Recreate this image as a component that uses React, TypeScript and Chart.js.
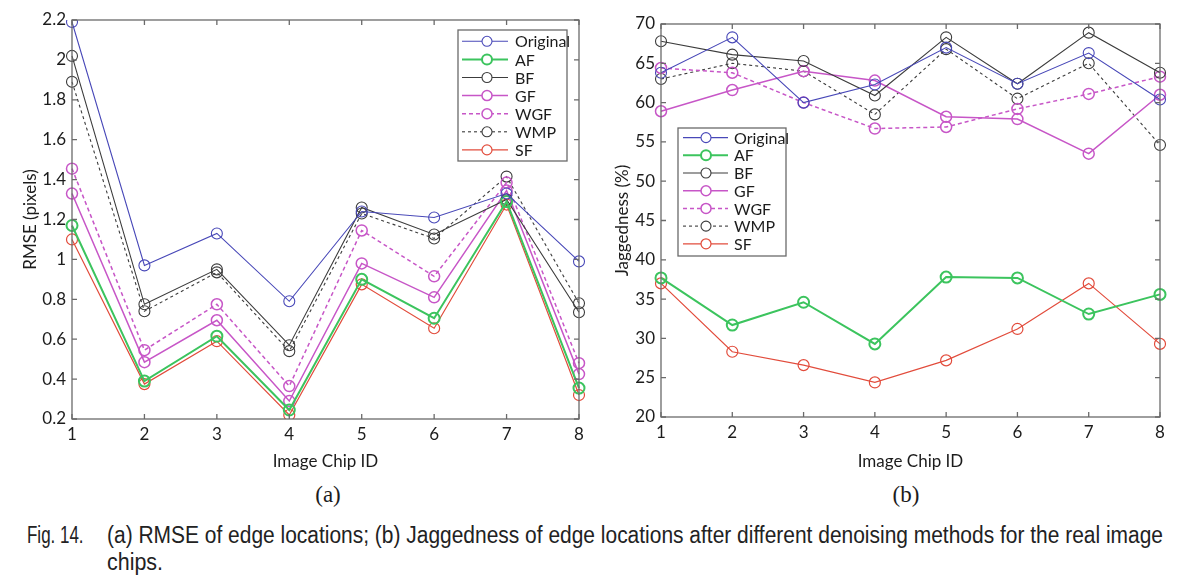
import React, { useEffect, useLayoutEffect, useRef } from 'react';
import { Chart, registerables } from 'chart.js';

Chart.register(...registerables);

// ---------- data ----------
const chipIds = ['1', '2', '3', '4', '5', '6', '7', '8'];
const seriesNames = ['Original', 'AF', 'BF', 'GF', 'WGF', 'WMP', 'SF'];

// (a) RMSE (pixels)
const rmseOriginal = [2.19, 0.97, 1.13, 0.79, 1.24, 1.21, 1.33, 0.99];
const rmseAF = [1.17, 0.39, 0.615, 0.245, 0.9, 0.705, 1.29, 0.355];
const rmseBF = [2.02, 0.775, 0.95, 0.57, 1.26, 1.125, 1.3, 0.735];
const rmseGF = [1.33, 0.485, 0.695, 0.29, 0.98, 0.81, 1.345, 0.425];
const rmseWGF = [1.455, 0.545, 0.775, 0.365, 1.145, 0.915, 1.385, 0.48];
const rmseWMP = [1.89, 0.74, 0.935, 0.54, 1.23, 1.105, 1.415, 0.78];
const rmseSF = [1.1, 0.375, 0.59, 0.22, 0.875, 0.655, 1.275, 0.32];
const rmseTickValues = [0.2, 0.4, 0.6, 0.8, 1, 1.2, 1.4, 1.6, 1.8, 2, 2.2];
const rmseTickLabels = ['0.2', '0.4', '0.6', '0.8', '1', '1.2', '1.4', '1.6', '1.8', '2', '2.2'];

// (b) Jaggedness (%)
const jagOriginal = [63.8, 68.3, 60.0, 62.3, 67.0, 62.4, 66.3, 60.4];
const jagAF = [37.7, 31.7, 34.6, 29.3, 37.8, 37.7, 33.1, 35.6];
const jagBF = [67.8, 66.1, 65.3, 60.9, 68.3, 62.4, 68.9, 63.8];
const jagGF = [58.9, 61.6, 64.0, 62.8, 58.2, 57.9, 53.5, 61.0];
const jagWGF = [64.4, 63.8, 60.0, 56.7, 56.9, 59.2, 61.1, 63.3];
const jagWMP = [63.0, 65.0, 64.0, 58.5, 66.8, 60.5, 65.0, 54.6];
const jagSF = [37.0, 28.3, 26.6, 24.4, 27.2, 31.2, 37.0, 29.3];
const jagTickValues = [20, 25, 30, 35, 40, 45, 50, 55, 60, 65, 70];
const jagTickLabels = ['20', '25', '30', '35', '40', '45', '50', '55', '60', '65', '70'];

// ---------- styles ----------
const seriesStyles = [
  { color: '#4848b8', width: 1.1, dash: [] as number[] },
  { color: '#3cc45e', width: 2, dash: [] as number[] },
  { color: '#3c3c3c', width: 1.1, dash: [] as number[] },
  { color: '#c756c7', width: 1.5, dash: [] as number[] },
  { color: '#c756c7', width: 1.5, dash: [4, 3] },
  { color: '#3c3c3c', width: 1.1, dash: [3, 3] },
  { color: '#e24c3c', width: 1.2, dash: [] as number[] },
];

const FONT = 'Lato';
const TEXT_COLOR = '#1c1c1c';
const FRAME_COLOR = '#6a6a6a';

const framePlugin = {
  id: 'matlabFrame',
  afterDatasetsDraw(chart: any) {
    const { ctx, chartArea, scales } = chart;
    const { left, right, top, bottom } = chartArea;
    const tl = 5;
    ctx.save();
    ctx.strokeStyle = FRAME_COLOR;
    ctx.lineWidth = 1.3;
    ctx.setLineDash([]);
    ctx.strokeRect(left, top, right - left, bottom - top);
    ctx.beginPath();
    scales.x.ticks.forEach((_t: any, i: number) => {
      const x = scales.x.getPixelForTick(i);
      ctx.moveTo(x, bottom);
      ctx.lineTo(x, bottom - tl);
      ctx.moveTo(x, top);
      ctx.lineTo(x, top + tl);
    });
    scales.y.ticks.forEach((_t: any, i: number) => {
      const y = scales.y.getPixelForTick(i);
      ctx.moveTo(left, y);
      ctx.lineTo(left + tl, y);
      ctx.moveTo(right, y);
      ctx.lineTo(right - tl, y);
    });
    ctx.stroke();
    ctx.restore();
  },
};

const boxLegendPlugin = {
  id: 'boxLegend',
  afterDraw(chart: any, _args: any, opts: any) {
    const { ctx } = chart;
    const { left, top, width, height, firstRow, rowStep, lineStart, lineEnd, markerX, textX } = opts;
    ctx.save();
    ctx.fillStyle = '#ffffff';
    ctx.fillRect(left, top, width, height);
    ctx.strokeStyle = FRAME_COLOR;
    ctx.lineWidth = 1.3;
    ctx.setLineDash([]);
    ctx.strokeRect(left, top, width, height);
    ctx.font = `16px ${FONT}`;
    ctx.textBaseline = 'middle';
    ctx.textAlign = 'left';
    chart.data.datasets.forEach((ds: any, i: number) => {
      const y = top + firstRow + i * rowStep;
      ctx.strokeStyle = ds.borderColor;
      ctx.lineWidth = ds.borderWidth;
      ctx.setLineDash(ds.borderDash || []);
      ctx.beginPath();
      ctx.moveTo(left + lineStart, y);
      ctx.lineTo(left + lineEnd, y);
      ctx.stroke();
      ctx.setLineDash([]);
      ctx.lineWidth = ds.pointBorderWidth;
      ctx.beginPath();
      ctx.arc(left + markerX, y, 5, 0, Math.PI * 2);
      ctx.fillStyle = '#ffffff';
      ctx.fill();
      ctx.stroke();
      ctx.fillStyle = TEXT_COLOR;
      ctx.fillText(ds.label, left + textX, y + 1);
    });
    ctx.restore();
  },
};

interface PanelProps {
  series: number[][];
  tickValues: number[];
  tickLabels: string[];
  yTitle: string;
  canvasLeft: number;
  canvasWidth: number;
  canvasHeight: number;
  padTop: number;
  padRight: number;
  yAxisWidth: number;
  xAxisHeight: number;
  yTitlePad: number;
  legend: any;
}

function Panel(p: PanelProps) {
  const ref = useRef<HTMLCanvasElement>(null);
  useEffect(() => {
    if (!ref.current) return;
    const font = { family: FONT, size: 17 };
    const chart = new Chart(ref.current, {
      type: 'line',
      data: {
        labels: chipIds,
        datasets: p.series.map((vals, i) => ({
          label: seriesNames[i],
          data: vals,
          borderColor: seriesStyles[i].color,
          borderWidth: seriesStyles[i].width,
          borderDash: seriesStyles[i].dash,
          pointStyle: 'circle',
          pointRadius: 5.5,
          pointBorderWidth: seriesStyles[i].width,
          pointBorderColor: seriesStyles[i].color,
          pointBackgroundColor: 'rgba(0,0,0,0)',
          tension: 0,
          fill: false,
        })),
      },
      options: {
        responsive: false,
        animation: false,
        events: [],
        layout: { padding: { left: 0, top: p.padTop, right: p.padRight, bottom: 0 } },
        plugins: {
          legend: { display: false },
          tooltip: { enabled: false },
          boxLegend: p.legend,
        } as any,
        scales: {
          x: {
            type: 'category',
            offset: false,
            grid: { display: false, drawTicks: false },
            border: { display: false },
            ticks: { padding: 5, color: TEXT_COLOR, font, autoSkip: false, maxRotation: 0 },
            title: { display: true, text: 'Image Chip ID', color: TEXT_COLOR, font, padding: { top: 0, bottom: 0 } },
            afterFit: (s: any) => {
              s.height = p.xAxisHeight;
            },
          },
          y: {
            type: 'linear',
            min: p.tickValues[0],
            max: p.tickValues[p.tickValues.length - 1],
            grid: { display: false, drawTicks: false },
            border: { display: false },
            afterBuildTicks: (s: any) => {
              s.ticks = p.tickValues.map((v) => ({ value: v }));
            },
            ticks: {
              padding: 6,
              color: TEXT_COLOR,
              font,
              autoSkip: false,
              callback: (_v: any, i: number) => p.tickLabels[i],
            },
            title: { display: true, text: p.yTitle, color: TEXT_COLOR, font, padding: { top: p.yTitlePad, bottom: 0 } },
            afterFit: (s: any) => {
              s.width = p.yAxisWidth;
            },
          },
        },
      } as any,
      plugins: [framePlugin, boxLegendPlugin],
    });
    return () => chart.destroy();
  }, []);
  return (
    <canvas
      ref={ref}
      width={p.canvasWidth}
      height={p.canvasHeight}
      style={{ position: 'absolute', left: p.canvasLeft, top: 0, width: p.canvasWidth, height: p.canvasHeight }}
    />
  );
}

function FitText(props: { text: string; left: number; top: number; width: number; style: React.CSSProperties }) {
  const ref = useRef<HTMLSpanElement>(null);
  useLayoutEffect(() => {
    const fit = () => {
      const el = ref.current;
      if (!el) return;
      el.style.transform = 'none';
      const w = el.getBoundingClientRect().width;
      if (w > 0) el.style.transform = `scaleX(${props.width / w})`;
    };
    fit();
    if ((document as any).fonts && (document as any).fonts.ready) (document as any).fonts.ready.then(fit);
  }, [props.text, props.width]);
  return (
    <span
      ref={ref}
      style={{
        position: 'absolute',
        left: props.left,
        top: props.top,
        whiteSpace: 'nowrap',
        display: 'inline-block',
        transformOrigin: '0 0',
        ...props.style,
      }}
    >
      {props.text}
    </span>
  );
}

export default function App() {
  const captionStyle: React.CSSProperties = {
    fontFamily: '"Liberation Sans", Arial, sans-serif',
    fontSize: 23,
    lineHeight: '27px',
    color: '#222',
  };
  const subStyle: React.CSSProperties = {
    position: 'absolute',
    width: 100,
    textAlign: 'center',
    fontFamily: '"Liberation Serif", "Times New Roman", serif',
    fontSize: 23,
    lineHeight: '26px',
    color: '#1c1c1c',
    top: 482,
  };
  return (
    <div style={{ position: 'absolute', left: 0, top: 0, width: 1187, height: 581, background: '#fff', overflow: 'hidden' }}>
      <Panel
        series={[rmseOriginal, rmseAF, rmseBF, rmseGF, rmseWGF, rmseWMP, rmseSF]}
        tickValues={rmseTickValues}
        tickLabels={rmseTickLabels}
        yTitle="RMSE (pixels)"
        canvasLeft={0}
        canvasWidth={600}
        canvasHeight={472}
        padTop={20}
        padRight={21}
        yAxisWidth={72}
        xAxisHeight={53}
        yTitlePad={20}
        legend={{ left: 458, top: 30, width: 109, height: 131, firstRow: 11.3, rowStep: 18.1, lineStart: 4, lineEnd: 50, markerX: 29, textX: 57 }}
      />
      <Panel
        series={[jagOriginal, jagAF, jagBF, jagGF, jagWGF, jagWMP, jagSF]}
        tickValues={jagTickValues}
        tickLabels={jagTickLabels}
        yTitle="Jaggedness (%)"
        canvasLeft={590}
        canvasWidth={597}
        canvasHeight={472}
        padTop={24}
        padRight={27}
        yAxisWidth={71}
        xAxisHeight={55}
        yTitlePad={22}
        legend={{ left: 88, top: 128, width: 108, height: 128, firstRow: 9.6, rowStep: 17.7, lineStart: 5, lineEnd: 50, markerX: 28, textX: 56 }}
      />
      <div style={{ ...subStyle, left: 278 }}>(a)</div>
      <div style={{ ...subStyle, left: 856 }}>(b)</div>
      <FitText text="Fig. 14." left={26.7} top={522} width={56.6} style={captionStyle} />
      <FitText
        text="(a) RMSE of edge locations; (b) Jaggedness of edge locations after different denoising methods for the real image"
        left={107.3}
        top={522}
        width={1056}
        style={captionStyle}
      />
      <FitText text="chips." left={107.3} top={548.5} width={56} style={captionStyle} />
    </div>
  );
}
